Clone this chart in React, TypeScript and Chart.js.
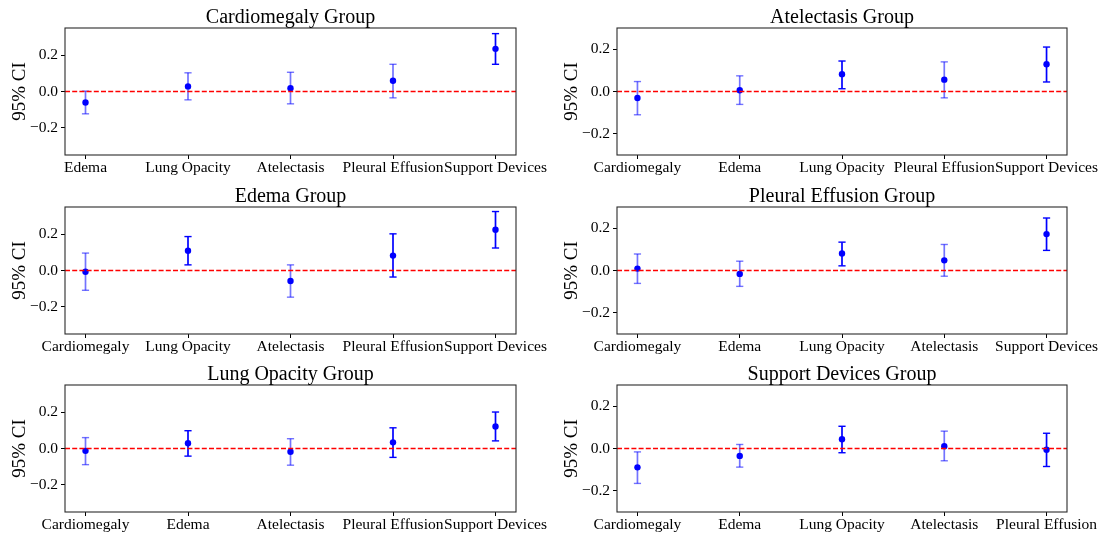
import React, { useEffect, useRef } from 'react';
import { Chart, registerables } from 'chart.js';

Chart.register(...registerables);

const FONT = '"Liberation Serif", "Times New Roman", Times, serif';

// ---- data ----
const cardioTitle = 'Cardiomegaly Group';
const cardioCats = ['Edema', 'Lung Opacity', 'Atelectasis', 'Pleural Effusion', 'Support Devices'];
const cardioMeans = [-0.061, 0.028, 0.018, 0.059, 0.235];
const cardioLower = [-0.123, -0.046, -0.068, -0.035, 0.15];
const cardioUpper = [0.002, 0.103, 0.106, 0.15, 0.319];
const cardioSolid = [false, false, false, false, true];

const atelTitle = 'Atelectasis Group';
const atelCats = ['Cardiomegaly', 'Edema', 'Lung Opacity', 'Pleural Effusion', 'Support Devices'];
const atelMeans = [-0.031, 0.006, 0.082, 0.056, 0.129];
const atelLower = [-0.11, -0.061, 0.013, -0.03, 0.045];
const atelUpper = [0.047, 0.074, 0.144, 0.14, 0.21];
const atelSolid = [false, false, true, false, true];

const edemaTitle = 'Edema Group';
const edemaCats = ['Cardiomegaly', 'Lung Opacity', 'Atelectasis', 'Pleural Effusion', 'Support Devices'];
const edemaMeans = [-0.007, 0.109, -0.058, 0.082, 0.225];
const edemaLower = [-0.109, 0.031, -0.147, -0.036, 0.124];
const edemaUpper = [0.096, 0.187, 0.031, 0.202, 0.325];
const edemaSolid = [false, true, false, true, true];

const pleuralTitle = 'Pleural Effusion Group';
const pleuralCats = ['Cardiomegaly', 'Edema', 'Lung Opacity', 'Atelectasis', 'Support Devices'];
const pleuralMeans = [0.009, -0.016, 0.08, 0.048, 0.172];
const pleuralLower = [-0.061, -0.075, 0.022, -0.027, 0.095];
const pleuralUpper = [0.078, 0.044, 0.134, 0.123, 0.248];
const pleuralSolid = [false, false, true, false, true];

const lungTitle = 'Lung Opacity Group';
const lungCats = ['Cardiomegaly', 'Edema', 'Atelectasis', 'Pleural Effusion', 'Support Devices'];
const lungMeans = [-0.013, 0.029, -0.018, 0.034, 0.121];
const lungLower = [-0.089, -0.042, -0.092, -0.049, 0.042];
const lungUpper = [0.06, 0.098, 0.054, 0.114, 0.201];
const lungSolid = [false, true, false, true, true];

const supportTitle = 'Support Devices Group';
const supportCats = ['Cardiomegaly', 'Edema', 'Lung Opacity', 'Atelectasis', 'Pleural Effusion'];
const supportMeans = [-0.089, -0.035, 0.044, 0.011, -0.006];
const supportLower = [-0.165, -0.088, -0.02, -0.058, -0.085];
const supportUpper = [-0.016, 0.019, 0.105, 0.082, 0.072];
const supportSolid = [false, false, true, false, true];

const yTickValues = [-0.2, 0, 0.2];
const yLimitWide = 0.35;
const yLimitNarrow = 0.3;
const yLabel = '95% CI';

type PanelData = {
  title: string;
  cats: string[];
  means: number[];
  lower: number[];
  upper: number[];
  solid: boolean[];
  yLim: number;
};

const panels: PanelData[] = [
  { title: cardioTitle, cats: cardioCats, means: cardioMeans, lower: cardioLower, upper: cardioUpper, solid: cardioSolid, yLim: yLimitWide },
  { title: atelTitle, cats: atelCats, means: atelMeans, lower: atelLower, upper: atelUpper, solid: atelSolid, yLim: yLimitNarrow },
  { title: edemaTitle, cats: edemaCats, means: edemaMeans, lower: edemaLower, upper: edemaUpper, solid: edemaSolid, yLim: yLimitWide },
  { title: pleuralTitle, cats: pleuralCats, means: pleuralMeans, lower: pleuralLower, upper: pleuralUpper, solid: pleuralSolid, yLim: yLimitNarrow },
  { title: lungTitle, cats: lungCats, means: lungMeans, lower: lungLower, upper: lungUpper, solid: lungSolid, yLim: yLimitWide },
  { title: supportTitle, cats: supportCats, means: supportMeans, lower: supportLower, upper: supportUpper, solid: supportSolid, yLim: yLimitNarrow },
];

// ---- layout ----
const ROW_TOPS = [28, 207, 385];
const PLOT_H = 127;
const COLS = [
  { canvasLeft: 0, canvasWidth: 550, areaLeft: 65, areaRight: 516 },
  { canvasLeft: 550, canvasWidth: 551, areaLeft: 617, areaRight: 1067 },
];
const TOP_PAD = 28;
const BOTTOM_H = 23;

function fmt(v: number) {
  if (Math.abs(v) < 1e-9) return '0.0';
  return v < 0 ? '\u2212' + Math.abs(v).toFixed(1) : v.toFixed(1);
}

function Panel({ p, idx }: { p: PanelData; idx: number }) {
  const ref = useRef<HTMLCanvasElement>(null);
  const col = COLS[idx % 2];
  const rowTop = ROW_TOPS[Math.floor(idx / 2)];
  const canvasTop = rowTop - TOP_PAD;
  const canvasH = TOP_PAD + PLOT_H + BOTTOM_H;
  const yAxisW = col.areaLeft - col.canvasLeft;
  const rightPad = col.canvasLeft + col.canvasWidth - col.areaRight;

  useEffect(() => {
    if (!ref.current) return;
    const datasets: any[] = [];
    datasets.push({
      data: [{ x: -0.2, y: 0 }, { x: 4.2, y: 0 }],
      showLine: true,
      borderColor: '#ff0000',
      borderWidth: 1.3,
      borderDash: [5, 2.2],
      pointRadius: 0,
      order: 0,
    });
    datasets.push({
      data: p.means.map((m, i) => ({ x: i, y: m })),
      showLine: false,
      pointRadius: 3.2,
      pointBackgroundColor: '#0000ff',
      pointBorderColor: '#0000ff',
      pointBorderWidth: 0,
      order: 1,
    });
    p.means.forEach((_, i) => {
      const c = p.solid[i] ? 'rgba(0,0,255,1)' : 'rgba(0,0,255,0.55)';
      datasets.push({
        data: [{ x: i, y: p.lower[i] }, { x: i, y: p.upper[i] }],
        showLine: true,
        borderColor: c,
        borderWidth: 1.7,
        pointStyle: 'line',
        pointRadius: 3.6,
        pointBorderColor: c,
        pointBackgroundColor: c,
        pointBorderWidth: 1.4,
        order: 2,
      });
    });

    const titlePlugin = {
      id: 'panelTitle',
      afterDraw(chart: any) {
        const { ctx, chartArea } = chart;
        ctx.save();
        ctx.font = `20px ${FONT}`;
        ctx.fillStyle = '#000';
        ctx.textAlign = 'center';
        ctx.textBaseline = 'alphabetic';
        ctx.fillText(p.title, (chartArea.left + chartArea.right) / 2, chartArea.top - 5);
        ctx.restore();
      },
    };
    const framePlugin = {
      id: 'frame',
      afterDatasetsDraw(chart: any) {
        const { ctx, chartArea: a } = chart;
        ctx.save();
        ctx.strokeStyle = '#2a2a2a';
        ctx.lineWidth = 1.1;
        ctx.strokeRect(a.left, a.top, a.right - a.left, a.bottom - a.top);
        ctx.restore();
      },
    };

    const chart = new Chart(ref.current, {
      type: 'scatter',
      data: { datasets },
      plugins: [titlePlugin, framePlugin],
      options: {
        animation: false,
        responsive: false,
        devicePixelRatio: 1,
        events: [],
        layout: { padding: { left: 0, right: rightPad, top: TOP_PAD, bottom: 0 } },
        plugins: { legend: { display: false }, tooltip: { enabled: false }, title: { display: false } },
        scales: {
          x: {
            type: 'linear',
            min: -0.2,
            max: 4.2,
            afterBuildTicks: (s: any) => {
              s.ticks = p.cats.map((_, i) => ({ value: i }));
            },
            afterFit: (s: any) => {
              s.height = BOTTOM_H;
            },
            ticks: {
              autoSkip: false,
              maxRotation: 0,
              minRotation: 0,
              padding: 0,
              color: '#000',
              font: { family: FONT, size: 15.5 },
              callback: (v: any) => p.cats[Math.round(Number(v))] ?? '',
            },
            grid: { drawOnChartArea: false, drawTicks: true, tickLength: 4, tickColor: '#000', tickWidth: 1 },
            border: { display: false },
          },
          y: {
            type: 'linear',
            min: -p.yLim,
            max: p.yLim,
            afterBuildTicks: (s: any) => {
              s.ticks = yTickValues.map((v) => ({ value: v }));
            },
            afterFit: (s: any) => {
              s.width = yAxisW;
            },
            ticks: {
              padding: 3,
              color: '#000',
              font: { family: FONT, size: 15.5 },
              callback: (v: any) => fmt(Number(v)),
            },
            title: {
              display: true,
              text: yLabel,
              color: '#000',
              font: { family: FONT, size: 19 },
              padding: { top: yAxisW - 44.5 - 11.4, bottom: 0 },
            },
            grid: { drawOnChartArea: false, drawTicks: true, tickLength: 4, tickColor: '#000', tickWidth: 1 },
            border: { display: false },
          },
        },
      } as any,
    });
    return () => chart.destroy();
  }, []);

  return (
    <canvas
      ref={ref}
      width={col.canvasWidth}
      height={canvasH}
      style={{ position: 'absolute', left: col.canvasLeft, top: canvasTop, width: col.canvasWidth, height: canvasH }}
    />
  );
}

export default function App() {
  return (
    <div style={{ position: 'absolute', left: 0, top: 0, width: 1101, height: 535, background: '#fff', overflow: 'hidden' }}>
      {panels.map((p, i) => (
        <Panel key={i} p={p} idx={i} />
      ))}
    </div>
  );
}
